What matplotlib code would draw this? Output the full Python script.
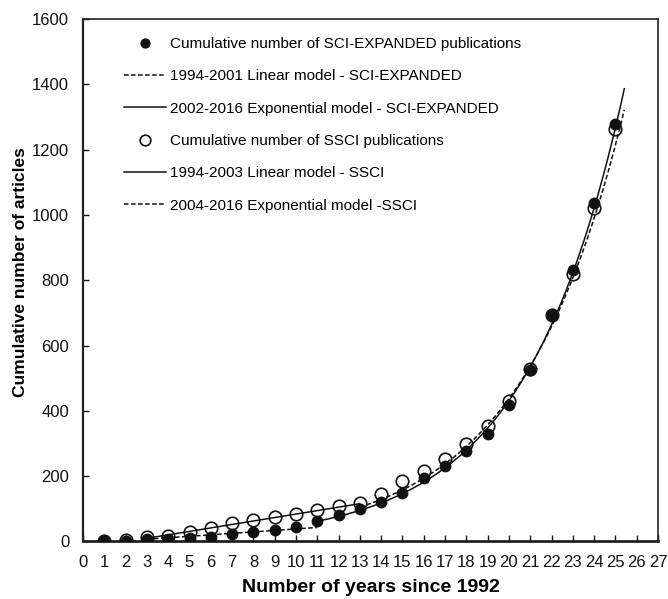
import numpy as np
import matplotlib
matplotlib.use("Agg")
import matplotlib.pyplot as plt

plt.rcParams['font.family'] = ['Liberation Sans', 'DejaVu Sans']

# Data: years since 1992
years = list(range(1, 26))
sci_cum = [1, 2, 7, 9, 12, 15, 23, 30, 34, 43, 64, 81, 100, 122, 148,
           194, 232, 278, 330, 417, 524, 694, 832, 1038, 1278]
ssci_cum = [3, 4, 14, 16, 30, 41, 57, 67, 76, 84, 96, 109, 117, 145, 186,
            215, 253, 298, 354, 429, 528, 694, 818, 1023, 1265]

# Model parameters
sci_lin_range = [3, 11]        # 1994-2001 linear
sci_lin_coef = [4.5, -6.5]     # slope, intercept
sci_exp_range = [11, 25.42]    # 2002-2016 exponential
sci_exp_coef = [5.78, 0.2156]  # a, b  (y = a*exp(b*x))
ssci_lin_range = [3, 13]       # 1994-2003 linear
ssci_lin_coef = [10.6, -22.0]
ssci_exp_range = [13, 25.42]   # 2004-2016 exponential
ssci_exp_coef = [7.42, 0.2039]

labels = ["Cumulative number of SCI-EXPANDED publications",
          "1994-2001 Linear model - SCI-EXPANDED",
          "2002-2016 Exponential model - SCI-EXPANDED",
          "Cumulative number of SSCI publications",
          "1994-2003 Linear model - SSCI",
          "2004-2016 Exponential model -SSCI"]

fig = plt.figure(figsize=(6.68, 5.99), dpi=100)
ax = fig.add_axes([0.1243, 0.096, 0.8607, 0.872])

dash = (0, (3, 1.6))

def lin(r, c):
    x = np.linspace(r[0], r[1], 50)
    return x, c[0] * x + c[1]

def expo(r, c):
    x = np.linspace(r[0], r[1], 200)
    return x, c[0] * np.exp(c[1] * x)

h1, = ax.plot(years, sci_cum, 'o', color='#111111', ms=7.5, zorder=4,
              label=labels[0])
x, y = lin(sci_lin_range, sci_lin_coef)
h2, = ax.plot(x, y, color='#111111', lw=1.1, ls=dash, label=labels[1], zorder=3)
x, y = expo(sci_exp_range, sci_exp_coef)
h3, = ax.plot(x, y, color='#111111', lw=1.1, ls='-', label=labels[2], zorder=3)
h4, = ax.plot(years, ssci_cum, 'o', mfc='none', mec='#111111', mew=1.2,
              ms=9, zorder=5, label=labels[3])
x, y = lin(ssci_lin_range, ssci_lin_coef)
h5, = ax.plot(x, y, color='#111111', lw=1.1, ls='-', label=labels[4], zorder=3)
x, y = expo(ssci_exp_range, ssci_exp_coef)
h6, = ax.plot(x, y, color='#111111', lw=1.1, ls=dash, label=labels[5], zorder=3)

ax.set_xlim(0, 27)
ax.set_ylim(0, 1600)
ax.set_xticks(range(0, 28))
ax.set_yticks(range(0, 1601, 200))
ax.tick_params(direction='in', length=4, width=1, labelsize=12, pad=10,
               colors='#111111')
ax.tick_params(axis='x', pad=10)
for s in ax.spines.values():
    s.set_linewidth(1.2)
    s.set_color('#222222')
ax.spines['bottom'].set_linewidth(2)
ax.spines['left'].set_linewidth(1.6)

ax.set_xlabel("Number of years since 1992", fontsize=14, fontweight='bold')
ax.set_ylabel("Cumulative number of articles", fontsize=12.5, fontweight='bold')
ax.xaxis.set_label_coords(0.5, -0.072)
ax.yaxis.set_label_coords(-0.095, 0.516)

leg = ax.legend(handles=[h1, h2, h3, h4, h5, h6], loc='upper left',
                bbox_to_anchor=(0.047, 0.992), frameon=False, fontsize=11,
                handlelength=2.75, handletextpad=0.3, labelspacing=1.2,
                markerscale=0.85)

fig.savefig("out.png", dpi=100)
